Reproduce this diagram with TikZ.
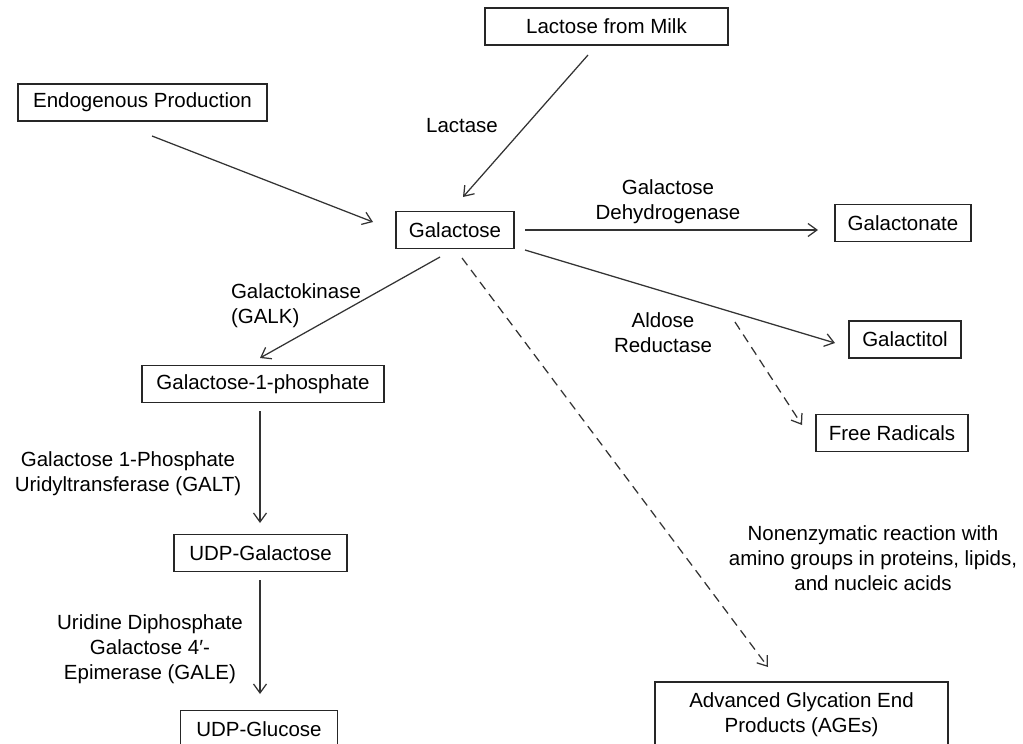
\documentclass[tikz,border=0pt]{standalone}
\usepackage{fontspec}
\setmainfont{Liberation Sans}
\usetikzlibrary{arrows.meta}
\begin{document}
\begin{tikzpicture}[x=1pt,y=-1pt,
  font=\fontsize{20.5}{25}\selectfont,
  box/.style={draw=black!85, line width=1.5pt, inner sep=0pt, minimum height=37pt, align=center},
  lbl/.style={inner sep=0pt, align=center},
  arr/.style={draw=black!80, line width=1.25pt, -{Straight Barb[length=9pt,width=13pt]}},
  darr/.style={arr, dash pattern=on 9pt off 6pt}]
\useasboundingbox (0,0) rectangle (1023,744);
% boxes
\node[box, minimum width=243pt] (milk) at (606.5,26.5) {Lactose from Milk};
\node[box, minimum width=249pt] (endo) at (142.5,102.5) {Endogenous Production};
\node[box, minimum width=118pt] (gal) at (455,230) {Galactose};
\node[box, minimum width=136pt] (galon) at (903,223) {Galactonate};
\node[box, minimum width=112pt] (galit) at (905,339.5) {Galactitol};
\node[box, minimum width=152pt] (free) at (892,433) {Free Radicals};
\node[box, minimum width=242pt] (g1p) at (263,384) {Galactose-1-phosphate};
\node[box, minimum width=173pt] (udpgal) at (260.5,553) {UDP-Galactose};
\node[box, minimum width=157pt] (udpglu) at (259,729) {UDP-Glucose};
\node[box, minimum width=293pt, minimum height=84pt, anchor=north] (age) at (801.5,681) {};
\node[lbl] (agetext) at (801.5,715) {Advanced Glycation End\\Products (AGEs)};
% labels
\node[lbl] (lactase) at (462,126) {Lactase};
\node[lbl] (gdh) at (668,202) {Galactose\\Dehydrogenase};
\node[lbl, align=left] (galk) at (296,306) {Galactokinase\\(GALK)};
\node[lbl] (ar) at (663,333) {Aldose\\Reductase};
\node[lbl] (galt) at (128,474) {Galactose 1-Phosphate\\Uridyltransferase (GALT)};
\node[lbl] (gale) at (150,649) {Uridine Diphosphate\\Galactose 4′-\\Epimerase (GALE)};
\node[lbl] (nonenz) at (873,558) {Nonenzymatic reaction with\\amino groups in proteins, lipids,\\and nucleic acids};
% connector end points
\coordinate (m1) at (588,55);
\coordinate (m2) at (463,197);
\coordinate (e1) at (152,136);
\coordinate (e2) at (373,222);
\coordinate (a1) at (525,230);
\coordinate (a2) at (818,230);
\coordinate (b1) at (525,250);
\coordinate (b2) at (835,343);
\coordinate (c1) at (440,257);
\coordinate (c2) at (260,358);
\coordinate (d1) at (462,258);
\coordinate (d2) at (768,667);
\coordinate (f1) at (735,322);
\coordinate (f2) at (802,425);
\coordinate (u1) at (260,411);
\coordinate (u2) at (260,523);
\coordinate (v1) at (260,580);
\coordinate (v2) at (260,694);
% connectors
\draw[arr] (m1) -- (m2);
\draw[arr] (e1) -- (e2);
\draw[arr] (a1) -- (a2);
\draw[arr] (b1) -- (b2);
\draw[arr] (c1) -- (c2);
\draw[darr] (d1) -- (d2);
\draw[darr] (f1) -- (f2);
\draw[arr] (u1) -- (u2);
\draw[arr] (v1) -- (v2);
\end{tikzpicture}
\end{document}
